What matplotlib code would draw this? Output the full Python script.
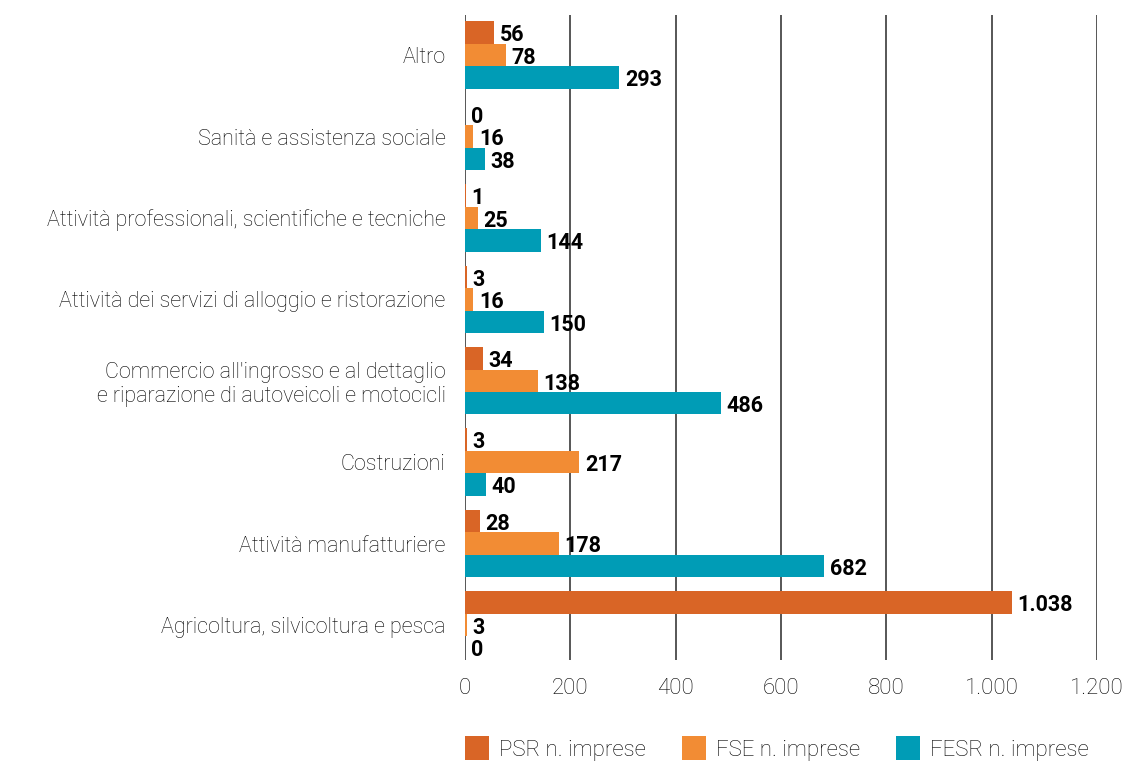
import matplotlib
matplotlib.use("Agg")
import matplotlib.pyplot as plt
import numpy as np
from matplotlib.patches import Patch

categories = [
    "Agricoltura, silvicoltura e pesca",
    "Attività manufatturiere",
    "Costruzioni",
    "Commercio all'ingrosso e al dettaglio\ne riparazione di autoveicoli e motocicli",
    "Attività dei servizi di alloggio e ristorazione",
    "Attività professionali, scientifiche e tecniche",
    "Sanità e assistenza sociale",
    "Altro",
]
psr = [1038, 28, 3, 34, 3, 1, 0, 56]
fse = [3, 178, 217, 138, 16, 25, 16, 78]
fesr = [0, 682, 40, 486, 150, 144, 38, 293]
series_names = ["PSR n. imprese", "FSE n. imprese", "FESR n. imprese"]
colors = ["#D96526", "#F28C34", "#009CB6"]
xticks = [0, 200, 400, 600, 800, 1000, 1200]
xticklabels = ["0", "200", "400", "600", "800", "1.000", "1.200"]

plt.rcParams['font.family'] = ['Roboto', 'DejaVu Sans']

fig = plt.figure(figsize=(11.27, 7.62), dpi=100)
ax = fig.add_axes([0.4126, 0.1339, 0.5608, 0.8461])

y = np.arange(len(categories))
h = 0.276
offsets = [h, 0, -h]
for vals, off, col in zip([psr, fse, fesr], offsets, colors):
    bars = ax.barh(y + off, vals, height=h, color=col, zorder=3)
    for b, v in zip(bars, vals):
        lab = f"{v:,}".replace(",", ".")
        ax.annotate(lab, (b.get_width(), b.get_y() + b.get_height() / 2),
                    xytext=(4, -2), textcoords="offset points",
                    ha="left", va="center", fontsize=15.5, fontweight="bold",
                    color="#000000", zorder=4)

ax.set_xlim(0, 1200)
ax.set_ylim(-0.43, 7.49)
ax.set_xticks(xticks)
ax.set_xticklabels(xticklabels, fontsize=16, fontweight="light", color="#000000")
ax.set_yticks(y)
ax.set_yticklabels(categories, fontsize=15.5, fontweight="light", color="#000000",
                   ha="right", multialignment="right")
ax.tick_params(axis="both", length=0)
ax.tick_params(axis="y", pad=14)
ax.tick_params(axis="x", pad=13)
for s in ax.spines.values():
    s.set_visible(False)
ax.xaxis.grid(True, color="#3a3a3a", linewidth=1.2, zorder=0)
ax.yaxis.grid(False)

handles = [Patch(facecolor=c, edgecolor="none") for c in colors]
fig.legend(handles, series_names, loc="upper left", bbox_to_anchor=(0.4126, 0.034),
           ncol=3, frameon=False, fontsize=16, handlelength=1.1, handleheight=1.3,
           columnspacing=1.6, handletextpad=0.45, borderaxespad=0, borderpad=0,
           prop={"weight": "light", "size": 16})

fig.savefig("out.png", dpi=100)
